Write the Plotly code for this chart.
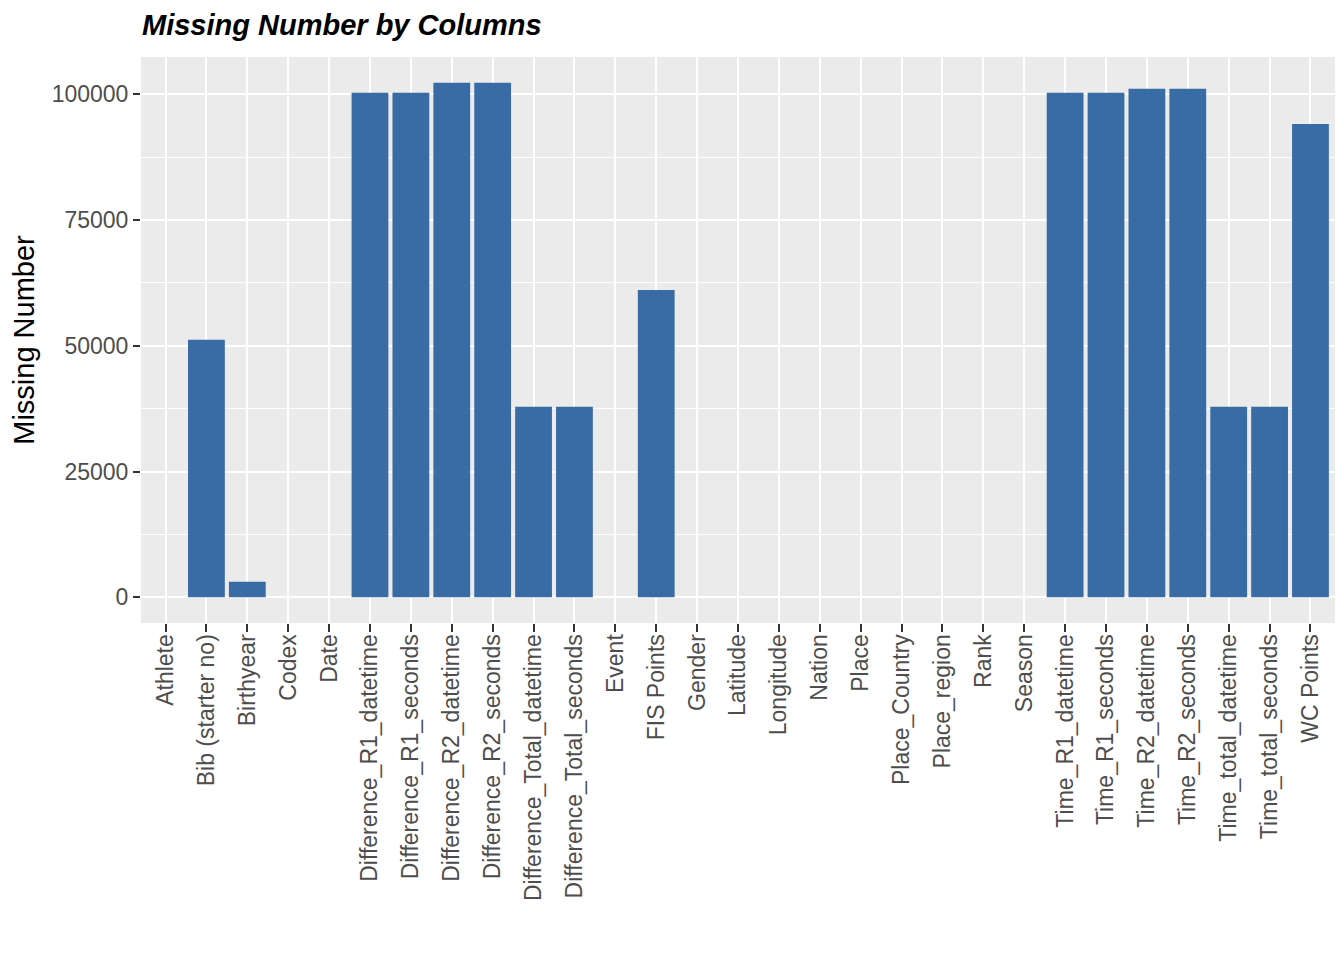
import plotly.graph_objects as go

# column names and the count of missing values in each
columns = ["Athlete", "Bib (starter no)", "Birthyear", "Codex", "Date",
           "Difference_R1_datetime", "Difference_R1_seconds",
           "Difference_R2_datetime", "Difference_R2_seconds",
           "Difference_Total_datetime", "Difference_Total_seconds",
           "Event", "FIS Points", "Gender", "Latitude", "Longitude",
           "Nation", "Place", "Place_Country", "Place_region", "Rank",
           "Season", "Time_R1_datetime", "Time_R1_seconds",
           "Time_R2_datetime", "Time_R2_seconds", "Time_total_datetime",
           "Time_total_seconds", "WC Points"]
missing = [0, 51200, 3100, 0, 0,
           100300, 100300,
           102300, 102300,
           37900, 37900,
           0, 61100, 0, 0, 0,
           0, 0, 0, 0, 0,
           0, 100300, 100300,
           101100, 101100, 37900,
           37900, 94100]
y_ticks = [0, 25000, 50000, 75000, 100000]

FONT = "Liberation Sans, Arial, Helvetica, sans-serif"
top = max(missing)

fig = go.Figure()
fig.add_trace(go.Bar(x=columns, y=missing, marker_color="#396BA5",
                     marker_line_width=0, width=0.9))

fig.update_layout(
    width=1344, height=960,
    margin=dict(l=133, r=17, t=49, b=345),
    paper_bgcolor="white", plot_bgcolor="#EBEBEB",
    font=dict(family=FONT),
    showlegend=False,
    title=dict(text="<b><i>Missing Number by Columns</i></b>",
               font=dict(family=FONT, size=29, color="black"),
               x=134 / 1344, xanchor="left", xref="container",
               y=1 - 17 / 960, yanchor="middle", yref="container"),
)

fig.update_xaxes(
    type="category", range=[-0.6, len(columns) - 0.4],
    tickangle=-90, tickfont=dict(size=23, color="#4D4D4D"),
    ticks="outside", ticklen=8, tickwidth=2, tickcolor="#333333",
    ticklabelstandoff=-7,
    showgrid=True, gridcolor="white", gridwidth=2.4,
    showline=False, zeroline=False,
)
fig.update_yaxes(
    range=[-0.05 * top, 1.05 * top],
    tickvals=y_ticks, ticktext=[str(v) for v in y_ticks],
    tickfont=dict(size=23, color="#4D4D4D"),
    ticks="outside", ticklen=7, tickwidth=2, tickcolor="#333333",
    showgrid=True, gridcolor="white", gridwidth=2.4,
    minor=dict(tickvals=[12500, 37500, 62500, 87500], showgrid=True,
               gridcolor="white", gridwidth=1.2, ticks=""),
    zeroline=False, showline=False,
    title=dict(text="Missing Number", font=dict(size=29, color="black"),
               standoff=10),
)

fig.write_html("out.html")
